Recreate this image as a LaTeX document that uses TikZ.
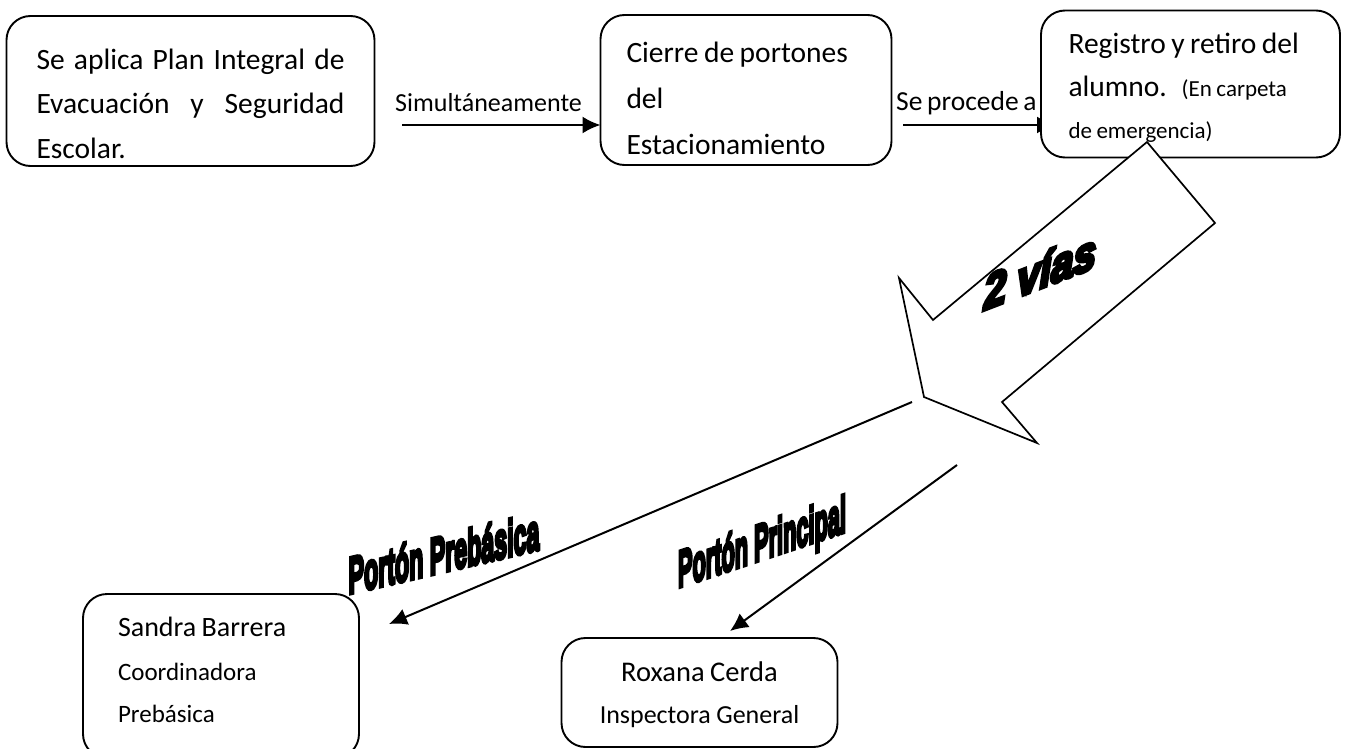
\documentclass[tikz,border=0pt]{standalone}
\usepackage{fontspec}
\setmainfont[WordSpace=0.75]{Carlito}
\newfontfamily\artfont[FakeBold=8]{Liberation Sans Bold}
\newfontfamily\artifont[FakeBold=8]{Liberation Sans Bold Italic}
\usetikzlibrary{arrows.meta,backgrounds}
\newcommand{\bigtxt}{\fontsize{29.5}{44.5}\selectfont}
\newcommand{\tightwords}{\spaceskip=5.5pt\relax}
\newcommand{\smalltxt}{\fontsize{23}{42}\selectfont\spaceskip=4.5pt\relax}
\newcommand{\fullline}[1]{\leavevmode\hbox to 308pt{#1}}
\newcommand{\pushdown}[1]{\rule{0pt}{#1pt}}
\tikzset{
  x=1pt,y=-1pt,
  flow/.style={draw=black,line width=1.9pt,rounded corners=24pt,fill=white,inner sep=0pt,outer sep=0pt,align=left,font=\bigtxt},
  link/.style={draw=black,line width=2pt,-{Latex[length=18pt,width=17pt]}},
  lab/.style={inner sep=0pt,anchor=base west},
  art/.style={inner sep=0pt,transform shape,text=black}
}
\begin{document}
\begin{tikzpicture}
\useasboundingbox (0,0) rectangle (1347,749);
\begin{scope}
\clip (0,0) rectangle (1347,749);
\node[flow,minimum width=368pt,minimum height=150pt,text width=308pt] (plan) at (190.5,91)
 {\pushdown{46}\fullline{Se\hfil aplica\hfil Plan\hfil Integral\hfil de}\\
  \fullline{Evacuación\hfil y\hfil Seguridad}\\Escolar.};
\node[flow,minimum width=291pt,minimum height=150pt,text width=239pt] (cierre) at (746,90)
 {\tightwords\pushdown{38}Cierre de portones\\[1.5pt]del\\[1.5pt]Estacionamiento};
\node[flow,minimum width=299pt,minimum height=147pt,text width=244pt] (registro) at (1190.5,84)
 {\tightwords\pushdown{28}Registro y retiro del\\[-1.5pt]alumno. {\smalltxt (En carpeta}\\[-2.5pt]{\smalltxt de emergencia)}};
\node[flow,minimum width=276pt,minimum height=164pt,text width=206pt] (sandra) at (221,676)
 {\tightwords\fontsize{28}{44}\selectfont Sandra Barrera\\{\fontsize{25}{44}\selectfont Coordinadora}\\[-2pt]{\fontsize{25}{44}\selectfont Prebásica}\rule[-12pt]{0pt}{1pt}};
\node[flow,minimum width=276pt,minimum height=109pt,align=center,text width=260pt] (roxana) at (699.5,692.5)
 {\tightwords\fontsize{28.5}{44}\selectfont \pushdown{24}Roxana Cerda\\[-3pt]{\fontsize{26}{44}\selectfont Inspectora General}};
\end{scope}

\coordinate (s1) at (402,125);
\coordinate (s2) at (903,125);
\draw[link] (s1) -- (s1 -| cierre.west);
\begin{scope}[on background layer]
\draw[link,shorten >=-14pt] (s2) -- (s2 -| registro.west);
\end{scope}
\node[lab,font=\fontsize{26}{30}\selectfont] (simul) at (395,112) {Simultáneamente};
\node[lab,font=\fontsize{27.5}{30}\selectfont] (proc) at (896,111) {Se procede a};

\filldraw[fill=white,draw=black,line width=1.7pt,miter limit=10]
  (1147,142) coordinate (a1) -- (1215,223) -- (1002,402) -- (1037,443) -- (924,397) -- (899,278) -- (933,320) -- cycle;

\coordinate (t1) at (912,402);
\coordinate (t2) at (957,465);
\coordinate (e1) at (389,624);
\coordinate (e2) at (730,631);
\draw[link] (t1) -- (e1);
\draw[link] (t2) -- (e2);

\node[art,cm={.96,.37,0,1.15,(0,0)},font=\artifont\fontsize{42}{42}\selectfont] (vias) at (1040,271) {2 vías};
\node[art,cm={.8,.186,0,1.78,(0,0)},font=\artfont\fontsize{29}{30}\selectfont] (prebas) at (444,553) {Portón Prebásica};
\node[art,cm={.75,.25,0,1.78,(0,0)},font=\artfont\fontsize{29}{30}\selectfont] (princ) at (762,546) {Portón Principal};
\end{tikzpicture}
\end{document}
